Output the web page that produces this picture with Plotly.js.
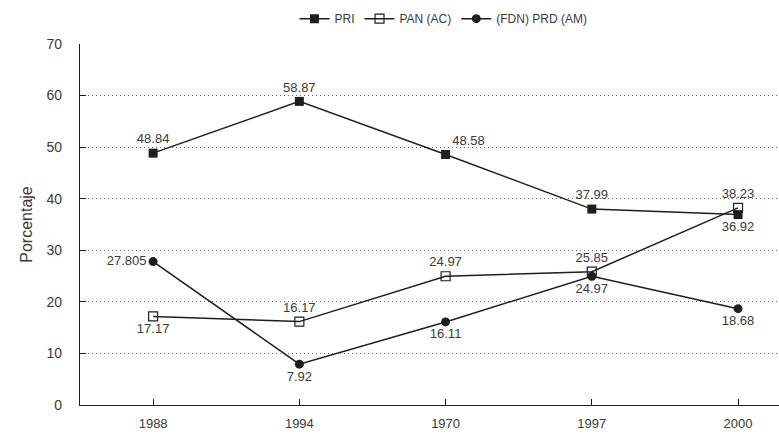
<!DOCTYPE html>
<html>
<head>
<meta charset="utf-8">
<script src="https://cdn.plot.ly/plotly-3.0.1.min.js"></script>
<style>
  html, body { margin: 0; padding: 0; background: #fff; }
  #chart { width: 779px; height: 437px; }
</style>
</head>
<body>
<div id="chart"></div>
<script>
// Election years (category order as published)
const years = ['1988', '1994', '1970', '1997', '2000'];

// Vote share by party, percent
const pri = [48.84, 58.87, 48.58, 37.99, 36.92];
const pan = [17.17, 16.17, 24.97, 25.85, 38.23];
const prd = [27.805, 7.92, 16.11, 24.97, 18.68];

// Label text for each point
const priLabels = ['48.84', '58.87', '48.58', '37.99', '36.92'];
const panLabels = ['17.17', '16.17', '24.97', '25.85', '38.23'];
const prdLabels = ['27.805', '7.92', '16.11', '24.97', '18.68'];

const yTicks = [0, 10, 20, 30, 40, 50, 60, 70];

const FONT = '"Liberation Sans", Arial, sans-serif';
const INK = '#1e1e1e';
const TXT = '#3a3a3a';

const traces = [
  {
    name: 'PRI', x: years, y: pri, text: priLabels,
    mode: 'lines+markers+text',
    textposition: ['top center', 'top center', 'top right', 'top center', 'bottom center'],
    line: { color: INK, width: 1.5 },
    marker: { symbol: 'square', size: 9, color: INK },
    textfont: { family: FONT, size: 13, color: TXT },
    cliponaxis: false
  },
  {
    name: 'PAN (AC)', x: years, y: pan, text: panLabels,
    mode: 'lines+markers+text',
    textposition: ['bottom center', 'top center', 'top center', 'top center', 'top center'],
    line: { color: INK, width: 1.5 },
    marker: { symbol: 'square-open', size: 9, color: INK, line: { width: 1.2 } },
    textfont: { family: FONT, size: 13, color: TXT },
    cliponaxis: false
  },
  {
    name: '(FDN) PRD (AM)', x: years, y: prd, text: prdLabels,
    mode: 'lines+markers+text',
    textposition: ['middle left', 'bottom center', 'bottom center', 'bottom center', 'bottom center'],
    line: { color: INK, width: 1.5 },
    marker: { symbol: 'circle', size: 9, color: INK },
    textfont: { family: FONT, size: 13, color: TXT },
    cliponaxis: false
  }
];

const layout = {
  width: 779, height: 437,
  margin: { l: 80, r: 0, t: 44, b: 32, pad: 0 },
  paper_bgcolor: '#ffffff', plot_bgcolor: '#ffffff',
  font: { family: FONT, size: 13, color: TXT },
  showlegend: true,
  legend: {
    orientation: 'h', x: 0.52, xanchor: 'center', y: 1.03, yanchor: 'bottom',
    font: { family: FONT, size: 12, color: TXT },
    itemwidth: 30, bgcolor: 'rgba(0,0,0,0)'
  },
  xaxis: {
    type: 'category', categoryorder: 'array', categoryarray: years,
    range: [-0.5, 4.28],
    showline: true, linecolor: INK, linewidth: 1.2,
    ticks: 'inside', ticklen: 6, tickcolor: INK, tickwidth: 1,
    showgrid: false, zeroline: false,
    ticklabelstandoff: 6,
    tickfont: { family: FONT, size: 13, color: TXT }
  },
  yaxis: {
    range: [0, 70], tickvals: yTicks,
    showline: true, linecolor: INK, linewidth: 1.2,
    ticks: 'inside', ticklen: 6, tickcolor: INK, tickwidth: 1,
    showgrid: true, gridcolor: '#666666', griddash: '1px,3px', gridwidth: 1,
    zeroline: false,
    ticklabelstandoff: 14,
    tickfont: { family: FONT, size: 14, color: TXT },
    title: { text: 'Porcentaje', font: { family: FONT, size: 16, color: TXT }, standoff: 9 }
  }
};

Plotly.newPlot('chart', traces, layout, { displayModeBar: false, staticPlot: true });
</script>
</body>
</html>
